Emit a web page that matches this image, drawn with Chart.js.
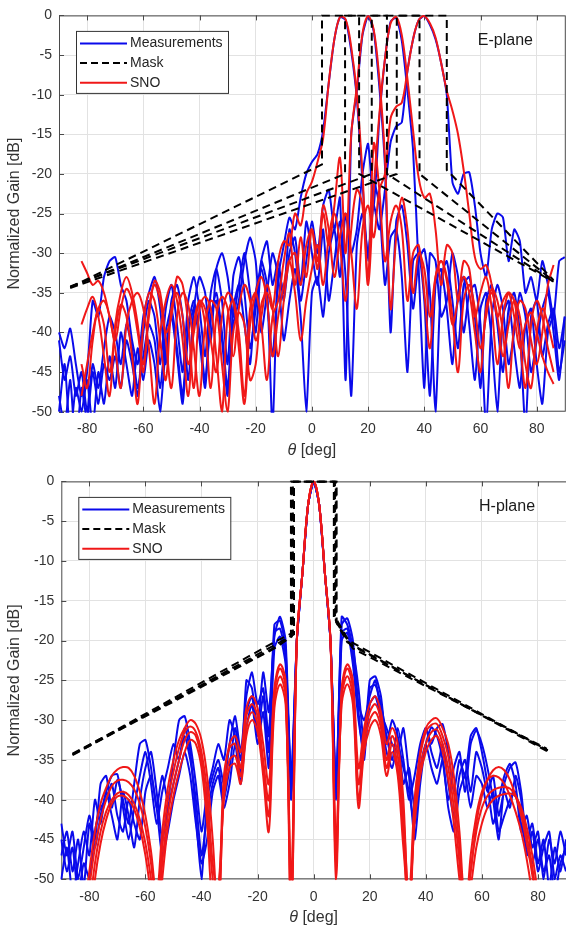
<!DOCTYPE html>
<html>
<head>
<meta charset="utf-8">
<script src="https://cdn.jsdelivr.net/npm/chart.js@4.4.0/dist/chart.umd.min.js"></script>
<style>
  html, body { margin: 0; padding: 0; background: #fff; }
  body { width: 566px; height: 933px; position: relative; overflow: hidden; }
  .plot { position: absolute; left: 0; width: 566px; }
  #wrapE { top: 0; height: 466px; }
  #wrapH { top: 466px; height: 467px; }
</style>
</head>
<body>
<div class="plot" id="wrapE"><canvas id="chartE" width="566" height="466"></canvas></div>
<div class="plot" id="wrapH"><canvas id="chartH" width="566" height="467"></canvas></div>
<script>
// angle grid shared by every measured / SNO pattern (deg)
const angleDeg = [
  -90,-88,-86,-84,-82,-80,-78,-76,-74,-72,-70,-68,-66,-64,-62,
  -60,-58,-56,-54,-52,-50,-48,-46,-44,-42,-40,-38,-36,-34,-32,
  -30,-28,-26,-24,-22,-20,-18,-16,-14,-12,-10,-8,-6,-4,-2,
  0,2,4,6,8,10,12,14,16,18,20,22,24,26,28,
  30,32,34,36,38,40,42,44,46,48,50,52,54,56,58,
  60,62,64,66,68,70,72,74,76,78,80,82,84,86,88,
  90];
const xTicks = [-80, -60, -40, -20, 0, 20, 40, 60, 80];
const yTicks = [-50, -45, -40, -35, -30, -25, -20, -15, -10, -5, 0];

// ---- E-plane, measurements (one per beam: 11, 20, 29, 39 deg) ----
const measE1 = [
  -41,-46,-43,-48,-45,-50,-44,-47,-42,-38,-40,-44,-39,-42,-47,
  -43,-39,-41,-47,-40,-37,-42,-48,-39,-36,-40,-46,-38,-35,-40,
  -47,-37,-34,-39,-44,-35,-32,-36,-43,-33,-29,-25.5,-27,-23,-20,
  -18.5,-17.5,-14.5,-8.5,-3,-0.2,-0.6,-4.5,-10.5,-21,-31,-21,-24,-34,-28,
  -27,-33,-45,-31,-30,-36,-48,-34,-32,-37,-44,-35,-33,-39,-46,
  -37,-35,-41,-50,-38,-36,-42,-47,-39,-37,-44,-49,-40,-38,-45,
  -41];
const measE2 = [
  -48,-52,-46,-55,-47,-51,-45,-49,-44,-46,-43,-47,-41,-44,-48,
  -40,-36,-38,-44,-37,-34,-39,-45,-36,-33,-37,-43,-35,-32,-36,
  -44,-33,-30.5,-35,-42,-37,-31,-34,-52,-32,-35,-27,-30,-36,-31,
  -26,-30,-24,-22,-27,-23,-46,-15,-9.5,-2.5,-0.1,-2,-9,-19,-40,
  -26,-24,-29,-37,-31,-29.5,-35,-50,-33,-31,-36,-42,-34,-33,-38,
  -47,-36,-34,-39,-45,-37,-35,-40,-52,-38,-36,-43,-39,-37,-42,
  -38];
const measE3 = [
  -50,-44,-53,-47,-50,-46,-52,-45,-49,-43,-47,-40,-44,-48,-42,
  -46,-41,-44,-50,-42,-38,-43,-49,-40,-37,-41,-47,-38,-36,-41,
  -48,-39,-36,-31,-28,-31,-40,-35,-30,-33,-41,-36,-32,-38,-50,
  -35,-33,-38,-30,-27,-33,-25,-30,-27,-20,-16.2,-24,-13,-5.5,-0.8,
  -0.3,-3.2,-9.5,-17,-32,-47,-30,-31,-38,-36,-30,-33,-40,-35,-34,
  -39,-52,-38,-34,-37,-44,-40,-35,-38,-45,-41,-37,-35,-40,-46,
  -38];
const measE4 = [
  -40,-42,-39.5,-44,-48,-45,-36,-38,-33,-31,-30.5,-34,-36,-41,-44,
  -38,-35,-33,-37,-44,-36,-34,-38,-46,-37,-33,-35,-41,-32,-30,
  -33,-38,-34,-30,-35,-40,-31,-28.5,-34,-31,-36,-30,-28,-34,-26,
  -30,-34,-27,-36,-31,-26,-33,-48,-29,-25,-30,-24,-27,-22,-16,
  -14,-13.5,-7,-3,-0.6,-0.1,-1.2,-3,-6,-10,-21,-22.5,-20,-19.8,-24,
  -30,-33,-27,-25,-25.5,-31,-27,-28.5,-35,-33,-36,-31,-34,-38,-31,
  -30.5];

// ---- E-plane, SNO ----
const snoE1 = [
  null,null,null,null,-31,-32.5,-34,-33.5,-35,-38,-41,-37,-34.5,-36,-40,
  -44,-38,-33.5,-35,-41,-47,-38,-35,-36.5,-42,-48,-39,-36,-37,-44,
  -50,-40,-37.5,-39,-46,-44,-36.5,-35,-37,-31,-28.5,-29,-25,-26.5,-22.5,
  -21,-18.5,-15.5,-8.5,-3,-0.2,-0.5,-4,-10,-20,-33,-16.2,-22,-31,-26,
  -24,-27,-36,-30,-29,-35,-42,-33,-31,-33,-38,-45,-36,-34,-37,
  -42,-38,-34.5,-36,-40,-47,-39,-36,-37,-41,-44,-40,-34,-31.5,null,
  null];
const snoE2 = [
  null,null,null,null,-39,-37,-35.5,-38,-43,-48,-39,-35,-33,-35,-39,
  -45,-37,-34,-36,-40,-38,-33,-34,-39,-47,-37,-35.5,-37,-43,-50,
  -38,-36,-40,-48,-37,-35,-39,-46,-38,-36,-31,-27.5,-34,-28,-33,
  -27,-32,-25,-29,-24,-18,-30,-15,-9,-2.3,-0.1,-1.8,-8,-18,-37,
  -28,-23,-27,-35,-30,-32,-38,-33,-31,-33.5,-39,-36,-33,-35,-40,
  -45,-37,-35,-38,-43,-39,-36,-38,-44,-47,-40,-37,-39,-42,null,
  null];
const snoE3 = [
  null,null,null,null,-48,-44,-40,-37,-36,-38,-42,-47,-39,-36,-35,
  -37,-42,-49,-40,-36,-34,-36,-41,-48,-39,-36,-37,-41,-45,-38,
  -35,-36,-42,-49,-39,-35,-33,-36,-43,-38,-34,-31,-35,-41,-36,
  -32,-29,-34,-28,-25,-29,-36,-27,-22,-24,-34,-22,-12.5,-5.5,-1,
  -0.2,-2.5,-8,-14.5,-20.5,-23,-22.5,-27,-34,-29,-30,-36,-31,-32,-38,
  -35,-33,-37,-44,-38,-35,-36,-41,-47,-39,-36,-38,-42,-45,null,
  null];
const snoE4 = [
  null,null,null,null,-44,-47,-41,-37,-39,-45,-40,-36.5,-38,-43,-49,
  -39,-35,-36,-41,-46,-37,-35,-38,-44,-40,-36,-39,-47,-38,-35.5,
  -37,-43,-37,-34,-36,-41,-38,-34,-37,-43,-36,-31,-30,-34,-29,
  -27,-31,-24,-27,-33,-28,-25,-30,-37,-27,-24,-28,-22,-20,-13,
  -11.5,-11,-7,-3,-0.6,-0.1,-1,-2.8,-6,-9.5,-12,-15,-19.5,-25,-30.5,
  -32,-31.5,-34,-38,-36,-35,-38,-42,-39,-37.5,-40,-43,-45,-46.5,null,
  null];

// ---- E-plane masks ----
const maskE1Deg = [-86, 3.6, 3.6, 16.8, 16.8, 86];
const maskE1dB  = [-34.3, -18.8, 0, 0, -20, -33.6];
const maskE2Deg = [-86, 11.8, 11.8, 26.7, 26.7, 86];
const maskE2dB  = [-34.3, -20, 0, 0, -20, -33.6];
const maskE3Deg = [-86, 21.3, 21.3, 38.3, 38.3, 86];
const maskE3dB  = [-34.2, -20, 0, 0, -20, -33.5];
const maskE4Deg = [-86, 30.2, 30.2, 48, 48, 86];
const maskE4dB  = [-34.4, -20, 0, 0, -19.5, -33.4];

// ---- H-plane, measurements ----
const measH1 = [
  -43,-47,-44,-50,-46,-42,-45,-38,-37,-41,-37.5,-40,-43,-38,-33,
  -32.5,-36,-41,-37,-40,-35,-30,-29.5,-33,-38,-44,-39,-36,-33,-35,
  -30,-32,-37,-25,-26,-31,-24,-29,-19.5,-17,-20,-38,-20,-11.5,-3,
  0,-3,-11.5,-20,-39,-17,-18,-21,-26,-33,-25,-24.5,-27,-33,-30,
  -32,-38,-36,-41,-34,-31,-33,-31,-30.5,-34,-39,-35,-37,-32,-31,
  -34,-38,-43,-40,-37,-35.5,-38,-44,-42,-46,-44,-50,-45,-48,-44,
  -47];
const measH2 = [
  -47,-44,-49,-45,-51,-43,-46,-42,-39,-37,-36.8,-41,-45,-41,-37,
  -34,-38,-43,-39,-36,-33,-35,-31,-34,-42,-50,-40,-37,-35,-38,
  -33,-29.5,-34,-27,-24,-28,-26,-32,-18,-17.5,-21,-40,-20,-11.5,-3,
  0,-3,-11.5,-20,-38,-18,-17.2,-20,-28,-30,-27,-25,-29,-31,-33,
  -34,-31,-37,-45,-38,-33,-30.9,-32,-35,-40,-36,-34,-39,-33,-31.3,
  -33,-36,-40,-45,-38,-36,-35.3,-39,-45,-43,-48,-45,-51,-46,-49,
  -45];
const measH3 = [
  -50,-46,-52,-48,-44,-47,-40,-43,-39,-42,-45,-39,-42,-46,-40,
  -36,-34,-39,-45,-41,-38,-35,-32,-35,-40,-47,-42,-38,-36,-40,
  -36,-31,-35,-29,-27,-32,-27,-34,-19,-18.5,-22,-39,-20,-11.5,-3,
  0,-3,-11.5,-20,-40,-19,-18.5,-22,-29,-35,-26,-25.6,-28,-32,-35,
  -31,-35,-40,-37,-33,-31,-34,-36,-33,-38,-42,-37,-35,-39,-34,
  -36,-39,-37,-42,-39,-41,-37,-40,-47,-44,-49,-46,-44,-50,-47,
  -49];
const measH4 = [
  -45,-49,-46,-52,-48,-50,-44,-41,-40,-38,-42,-44,-40,-43,-45,
  -39,-37,-41,-47,-44,-40,-37,-34,-37,-43,-48,-45,-39,-37,-41,
  -38,-33,-38,-31,-28,-33,-29,-36,-21,-19.5,-23,-37,-20,-11.5,-3,
  0,-3,-11.5,-20,-39,-20,-19,-23,-30,-34,-28,-27,-30,-34,-36,
  -33,-36,-39,-43,-36,-33,-36,-38,-35,-41,-44,-39,-37,-41,-37,
  -38,-41,-39,-44,-42,-40,-39,-43,-46,-48,-45,-49,-47,-52,-48,
  -46];

// ---- H-plane, SNO ----
const snoH1 = [
  null,null,null,-62,-55,-49,-44,-40.5,-38.5,-37,-36.2,-35.9,-36,-37,-39,
  -42,-46.5,-52,-44,-38.5,-35,-32.5,-31,-30,-30.5,-32.5,-37,-45,-55,-38,
  -33,-32,-34,-28.5,-27,-28.5,-33,-38,-26,-23,-25,-55,-20,-11.5,-3,
  0,-3,-11.5,-20,-50,-26,-23,-25,-36,-31,-28,-27,-29,-33,-31,
  -33,-40,-55,-41,-34,-31,-30,-29.8,-31,-33,-37,-44,-53,-49,-43,
  -39.5,-37.5,-36.3,-35.9,-36.3,-37.5,-39.5,-42,-45.5,-49.5,-55,-62,null,null,null,
  null];
const snoH2 = [
  null,null,null,-64,-57,-51,-46,-42.5,-40,-38.3,-37.6,-37.5,-37.8,-38.7,-40.5,
  -43.5,-48,-54,-46,-40,-36.5,-33.5,-31.5,-30.8,-31.5,-34,-39,-48,-52,-37,
  -33.5,-33,-36,-29.5,-28,-29.5,-35,-40,-26.5,-23.5,-26,-52,-20,-11.5,-3,
  0,-3,-11.5,-20,-46,-26.5,-23.5,-26,-38,-32,-29,-28,-30,-35,-32,
  -34.5,-42,-52,-40,-34.5,-31.5,-30.6,-30.5,-32,-34.5,-39,-46,-55,-47,-42,
  -39,-37.5,-37,-37.2,-38,-39.5,-41.5,-44,-47.5,-52,-58,-64,null,null,null,
  null];
const snoH3 = [
  null,null,null,null,-62,-54,-48,-44,-41.5,-40,-39.2,-39,-39.4,-40.5,-42.5,
  -45.5,-50,-56,-48,-42,-38,-35,-32.5,-31.5,-32,-35,-41,-50,-54,-39,
  -35,-34.5,-37,-31,-29,-30.5,-36,-42,-27.5,-24.5,-27,-56,-20,-11.5,-3,
  0,-3,-11.5,-20,-48,-27,-24.5,-27,-40,-33,-30,-29,-31,-36,-33,
  -36,-44,-56,-42,-36,-33,-31.5,-31.2,-33,-36,-41,-48,-57,-49,-44,
  -41,-39.5,-38.8,-38.5,-38.4,-38.6,-39.5,-41.5,-44.5,-48.5,-54,-61,null,null,null,
  null];
const snoH4 = [
  null,null,null,null,-65,-57,-50,-45.5,-42.5,-40.5,-39.6,-39.5,-40,-41.2,-43.5,
  -47,-52,-58,-50,-43.5,-39.5,-36.5,-34,-32.5,-33,-36,-43,-53,-51,-40,
  -36,-35.5,-38,-32,-30,-31.5,-37,-44,-28.5,-25.5,-28,-50,-20,-11.5,-3,
  0,-3,-11.5,-20,-45,-28,-25.5,-28,-41,-34,-31,-30,-32,-37,-34,
  -37,-46,-53,-43,-37,-34,-32.5,-32,-34,-37.5,-43,-50,-55,-51,-46,
  -43,-41,-40,-39.5,-39.3,-39.2,-39.6,-41,-43.5,-47,-52,-58,null,null,null,
  null];

// ---- H-plane masks ----
const maskH1Deg = [-86, -13, -7.4, -7.4, 7.6, 7.6, 12.5, 83.5];
const maskH1dB  = [-34.3, -20, -19, 0, 0, -17, -20, -33.8];
const maskH2Deg = [-86, -12.5, -7.8, -7.8, 7.9, 7.9, 13, 83.5];
const maskH2dB  = [-34.2, -20.6, -19.5, 0, 0, -17.5, -20.5, -33.8];
const maskH3Deg = [-85.8, -14, -7.0, -7.0, 7.2, 7.2, 14, 83.2];
const maskH3dB  = [-34.3, -21, -19.2, 0, 0, -17.2, -21, -33.6];
const maskH4Deg = [-86, -12, -8.1, -8.1, 8.2, 8.2, 12, 83.8];
const maskH4dB  = [-34.4, -20.2, -19.4, 0, 0, -17.8, -20.2, -34];

const BLUE = 'rgb(10,10,235)';
const RED = 'rgb(240,24,24)';
const GRID = '#e2e2e2';
const TICK = '#333';
const FONT = '"Liberation Sans", Arial, sans-serif';

function series(values) {
  return angleDeg.map((a, i) => ({ x: a, y: values[i] }));
}
function maskSeries(deg, dB) {
  return deg.map((a, i) => ({ x: a, y: dB[i] }));
}
function patternSet(values, color, order, tension) {
  return { data: series(values), borderColor: color, borderWidth: 2, pointRadius: 0,
           tension: tension, order: order, clip: 1, spanGaps: false };
}
function maskSet(deg, dB) {
  return { data: maskSeries(deg, dB), borderColor: '#000', borderWidth: 2, pointRadius: 0,
           borderDash: [8, 5], tension: 0, order: 0, clip: 1 };
}

// box, inner ticks, legend, plane label and x title (italic theta)
const frame = {
  id: 'frame',
  beforeDatasetsDraw(chart) {
    const { ctx, chartArea: a, scales: { x, y } } = chart;
    ctx.save();
    ctx.strokeStyle = '#4a4a4a';
    ctx.lineWidth = 1;
    ctx.strokeRect(a.left + 0.5, a.top + 0.5, a.right - a.left, a.bottom - a.top - 1);
    ctx.beginPath();
    xTicks.forEach(v => {
      const px = Math.round(x.getPixelForValue(v)) + 0.5;
      ctx.moveTo(px, a.bottom); ctx.lineTo(px, a.bottom - 5);
      ctx.moveTo(px, a.top); ctx.lineTo(px, a.top + 5);
    });
    yTicks.forEach(v => {
      const py = Math.round(y.getPixelForValue(v)) + 0.5;
      ctx.moveTo(a.left, py); ctx.lineTo(a.left + 5, py);
    });
    ctx.stroke();
    ctx.restore();
  },
  afterDatasetsDraw(chart, args, opts) {
    const { ctx, chartArea: a } = chart;
    const bx = a.left + 17, by = a.top + 15.5, bw = 152, bh = 62;
    ctx.save();
    ctx.fillStyle = '#fff';
    ctx.fillRect(bx, by, bw, bh);
    ctx.strokeStyle = '#333';
    ctx.lineWidth = 1;
    ctx.strokeRect(bx + 0.5, by + 0.5, bw, bh);
    const rows = [['Measurements', BLUE, []], ['Mask', '#000', [7, 4]], ['SNO', RED, []]];
    rows.forEach(([txt, col, dash], i) => {
      const ry = a.top + 28 + i * 19.7;
      ctx.setLineDash(dash);
      ctx.strokeStyle = col;
      ctx.lineWidth = 2;
      ctx.beginPath(); ctx.moveTo(bx + 4, ry); ctx.lineTo(bx + 51, ry); ctx.stroke();
      ctx.setLineDash([]);
      ctx.fillStyle = '#262626';
      ctx.font = '14px ' + FONT;
      ctx.textBaseline = 'middle';
      ctx.fillText(txt, bx + 54, ry);
    });
    ctx.font = '16px ' + FONT;
    ctx.fillStyle = '#1a1a1a';
    ctx.textBaseline = 'middle';
    ctx.fillText(opts.label, a.right - 87, a.top + 25);

    // x title: italic theta followed by " [deg]"
    const cx = (a.left + a.right) / 2, ty = a.bottom + 38.5;
    ctx.fillStyle = TICK;
    ctx.font = 'italic 16px ' + FONT;
    const w1 = ctx.measureText('θ').width;
    ctx.font = '16px ' + FONT;
    const w2 = ctx.measureText(' [deg]').width;
    const x0 = cx - (w1 + w2) / 2;
    ctx.font = 'italic 16px ' + FONT;
    ctx.fillText('θ', x0, ty);
    ctx.font = '16px ' + FONT;
    ctx.fillText(' [deg]', x0 + w1, ty);
    ctx.restore();
  }
};

function makeChart(id, datasets, label, box) {
  return new Chart(document.getElementById(id), {
    type: 'line',
    data: { datasets: datasets },
    options: {
      responsive: false,
      animation: false,
      events: [],
      layout: { padding: { top: box.top, right: box.right, left: 0, bottom: 0 } },
      plugins: { legend: { display: false }, tooltip: { enabled: false }, frame: { label: label } },
      scales: {
        x: {
          type: 'linear', min: -90, max: 90,
          afterBuildTicks: s => { s.ticks = xTicks.map(v => ({ value: v })); },
          afterFit: s => { s.height = box.xh; },
          grid: { color: GRID, drawTicks: false },
          border: { display: false },
          ticks: { color: TICK, font: { family: FONT, size: 14 }, padding: 9, maxRotation: 0, autoSkip: false }
        },
        y: {
          type: 'linear', min: -50, max: 0,
          afterBuildTicks: s => { s.ticks = yTicks.map(v => ({ value: v })); },
          afterFit: s => { s.width = box.left; },
          grid: { color: GRID, drawTicks: false },
          border: { display: false },
          ticks: { color: TICK, font: { family: FONT, size: 14 }, padding: 7, autoSkip: false },
          title: { display: true, text: 'Normalized Gain [dB]', color: TICK, font: { family: FONT, size: 16 },
                   padding: { top: 5, bottom: 0 } }
        }
      }
    },
    plugins: [frame]
  });
}

const eSets = [
  maskSet(maskE1Deg, maskE1dB), maskSet(maskE2Deg, maskE2dB),
  maskSet(maskE3Deg, maskE3dB), maskSet(maskE4Deg, maskE4dB),
  patternSet(snoE1, RED, 1, 0.35), patternSet(snoE2, RED, 1, 0.35),
  patternSet(snoE3, RED, 1, 0.35), patternSet(snoE4, RED, 1, 0.35),
  patternSet(measE1, BLUE, 2, 0.2), patternSet(measE2, BLUE, 2, 0.2),
  patternSet(measE3, BLUE, 2, 0.2), patternSet(measE4, BLUE, 2, 0.2)
];
const hSets = [
  maskSet(maskH1Deg, maskH1dB), maskSet(maskH2Deg, maskH2dB),
  maskSet(maskH3Deg, maskH3dB), maskSet(maskH4Deg, maskH4dB),
  patternSet(snoH1, RED, 1, 0.35), patternSet(snoH2, RED, 1, 0.35),
  patternSet(snoH3, RED, 1, 0.35), patternSet(snoH4, RED, 1, 0.35),
  patternSet(measH1, BLUE, 2, 0.2), patternSet(measH2, BLUE, 2, 0.2),
  patternSet(measH3, BLUE, 2, 0.2), patternSet(measH4, BLUE, 2, 0.2)
];

makeChart('chartE', eSets, 'E-plane', { top: 14.7, right: 1.2, xh: 54.3, left: 59 });
makeChart('chartH', hSets, 'H-plane', { top: 15.3, right: 0, xh: 53.7, left: 61.3 });
</script>
</body>
</html>
